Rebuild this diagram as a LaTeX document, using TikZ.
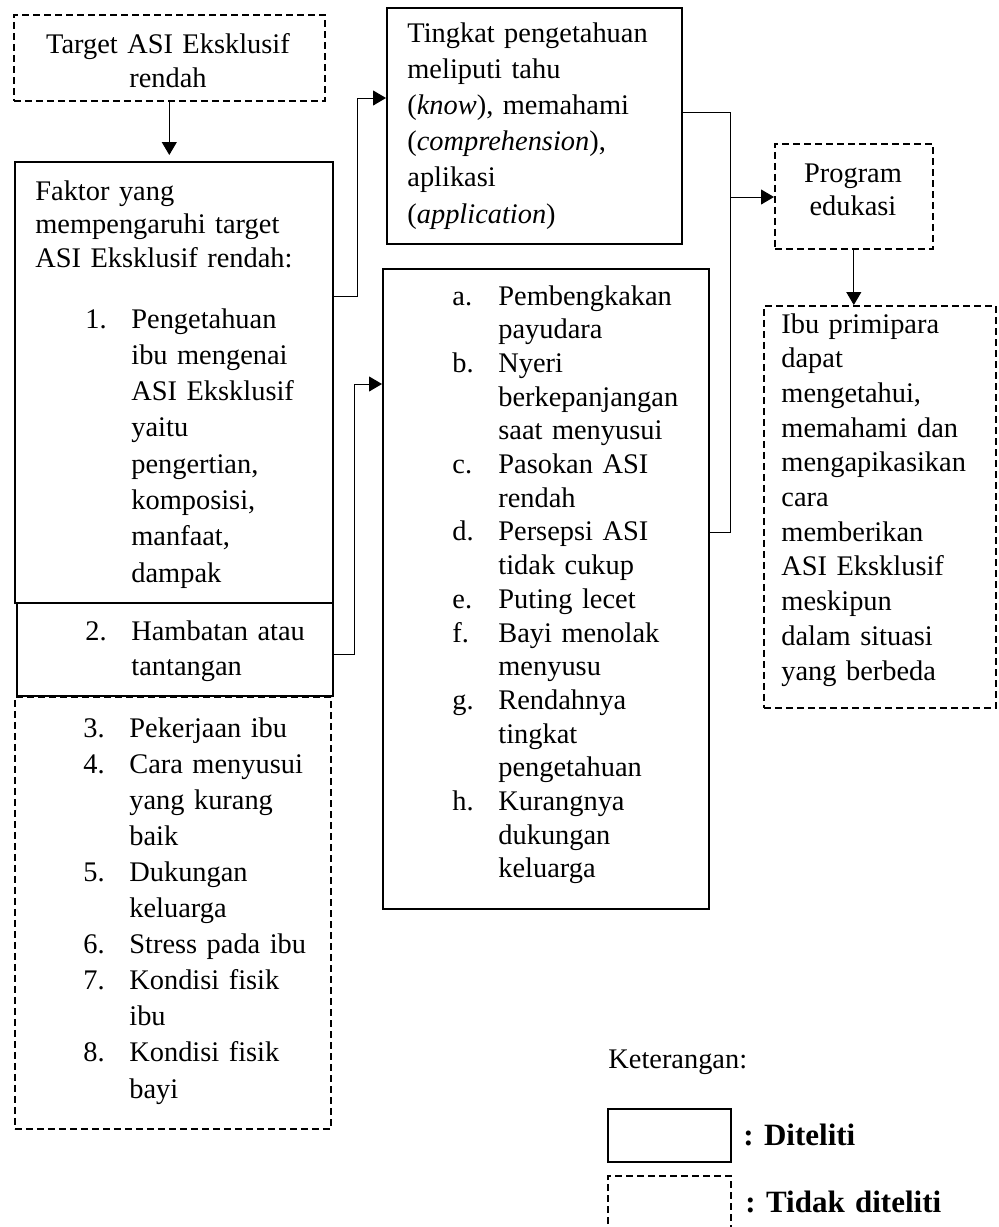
\documentclass[tikz,border=0pt]{standalone}
\usepackage{fontspec}
\setmainfont{Liberation Serif}
\usetikzlibrary{arrows.meta}
\frenchspacing
\newcommand{\fs}[1]{\fontsize{14.2pt}{#1}\selectfont}
\newcommand{\itm}[2]{\makebox[23pt][l]{#1}#2}
\newcommand{\cont}[1]{\hspace*{23pt}#1}
\tikzset{
  kotak/.style={draw, line width=0.8pt, inner sep=0pt, anchor=north west},
  kotakputus/.style={kotak, dash pattern=on 3.5pt off 2pt},
  teks/.style={inner sep=0pt, anchor=base west, align=left, text width=#1},
  teks/.default=180pt,
  tebal/.style={teks, font=\fontsize{15.5pt}{18pt}\selectfont\bfseries},
  garis/.style={line width=0.5pt},
  panah/.style={garis, -{Triangle[length=6.5pt,width=7.5pt]}},
}

\begin{document}
\begin{tikzpicture}[x=0.5pt, y=-0.5pt]
  %%%%% START %%%%%
  \useasboundingbox (0,0) rectangle (998,1227);

  % kotak
  \node[kotakputus, minimum width=155.5pt, minimum height=43pt] (target) at (13,14) {};
  \node[kotak, minimum width=159pt, minimum height=220.5pt] (faktor) at (14,161) {};
  \node[kotak, minimum width=158pt, minimum height=46.5pt] (hambatan) at (16,602) {};
  \node[kotakputus, minimum width=158pt, minimum height=216pt] (lain) at (14,696) {};
  \node[kotak, minimum width=147.5pt, minimum height=118pt] (tingkat) at (386,7) {};
  \node[kotak, minimum width=163pt, minimum height=320pt] (masalah) at (382,268) {};
  \node[kotakputus, minimum width=79pt, minimum height=52.5pt] (program) at (774,143) {};
  \node[kotakputus, minimum width=116pt, minimum height=201pt] (hasil) at (763,305) {};

  % teks
  \node[teks=150pt, font=\fs{17pt}, align=center, anchor=base] (targettxt) at (168,53)
    {Target ASI Eksklusif\\ rendah};
  \node[teks, font=\fs{16.75pt}] (faktortxt) at (35,200)
    {Faktor yang\\ mempengaruhi target\\ ASI Eksklusif rendah:};
  \node[teks, font=\fs{18.15pt}] (faktorlist) at (85,328)
    {\itm{1.}{Pengetahuan}\\ \cont{ibu mengenai}\\ \cont{ASI Eksklusif}\\ \cont{yaitu}\\
     \cont{pengertian,}\\ \cont{komposisi,}\\ \cont{manfaat,}\\ \cont{dampak}};
  \node[teks, font=\fs{17.5pt}] (hambatantxt) at (85,640)
    {\itm{2.}{Hambatan atau}\\ \cont{tantangan}};
  \node[teks, font=\fs{18.05pt}] (laintxt) at (83,737)
    {\itm{3.}{Pekerjaan ibu}\\ \itm{4.}{Cara menyusui}\\ \cont{yang kurang}\\ \cont{baik}\\
     \itm{5.}{Dukungan}\\ \cont{keluarga}\\ \itm{6.}{Stress pada ibu}\\
     \itm{7.}{Kondisi fisik}\\ \cont{ibu}\\ \itm{8.}{Kondisi fisik}\\ \cont{bayi}};
  \node[teks, font=\fs{18.1pt}] (tingkattxt) at (407,42)
    {Tingkat pengetahuan\\ meliputi tahu\\ (\textit{know}), memahami\\
     (\textit{comprehension}),\\ aplikasi\\ (\textit{application})};
  \node[teks, font=\fs{16.85pt}] (masalahtxt) at (452,305)
    {\itm{a.}{Pembengkakan}\\ \cont{payudara}\\ \itm{b.}{Nyeri}\\ \cont{berkepanjangan}\\
     \cont{saat menyusui}\\ \itm{c.}{Pasokan ASI}\\ \cont{rendah}\\ \itm{d.}{Persepsi ASI}\\
     \cont{tidak cukup}\\ \itm{e.}{Puting lecet}\\ \itm{f.}{Bayi menolak}\\ \cont{menyusu}\\
     \itm{g.}{Rendahnya}\\ \cont{tingkat}\\ \cont{pengetahuan}\\ \itm{h.}{Kurangnya}\\
     \cont{dukungan}\\ \cont{keluarga}};
  \node[teks=70pt, font=\fs{16.5pt}, align=center, anchor=base] (programtxt) at (853,182)
    {Program\\ edukasi};
  \node[teks, font=\fs{17.35pt}] (hasiltxt) at (781,333)
    {Ibu primipara\\ dapat\\ mengetahui,\\ memahami dan\\ mengapikasikan\\ cara\\
     memberikan\\ ASI Eksklusif\\ meskipun\\ dalam situasi\\ yang berbeda};

  % penghubung
  \coordinate (j1) at (357,296);
  \coordinate (k1) at (357,98);
  \coordinate (j2) at (354,654);
  \coordinate (k2) at (354,384);
  \coordinate (j3) at (730,112);
  \coordinate (j4) at (730,197);
  \coordinate (j5) at (730,532);

  \draw[panah, shorten >=3pt] (target.south) -- (target.south |- faktor.north);
  \draw[panah] (faktor.east |- j1) -- (j1) -- (k1) -- (tingkat.west |- k1);
  \draw[panah] (hambatan.east |- j2) -- (j2) -- (k2) -- (masalah.west |- k2);
  \draw[garis] (tingkat.east |- j3) -- (j3) -- (j4);
  \draw[garis] (masalah.east |- j5) -- (j5) -- (j4);
  \draw[panah] (j4) -- (program.west |- j4);
  \draw[panah] (program.south) -- (program.south |- hasil.north);

  % keterangan
  \node[teks, font=\fs{17pt}] (ket) at (608,1068) {Keterangan:};
  \node[kotak, minimum width=61.5pt, minimum height=26.5pt] (ketditeliti) at (607,1108) {};
  \node[tebal] (diteliti) at (743,1145) {: Diteliti};
  \draw[line width=0.8pt, dash pattern=on 3.5pt off 2pt] (608,1235) |- (731,1176) -- (731,1235);
  \node[tebal] (tidakditeliti) at (745,1212) {: Tidak diteliti};
  %%%%% END %%%%%
\end{tikzpicture}
\end{document}
